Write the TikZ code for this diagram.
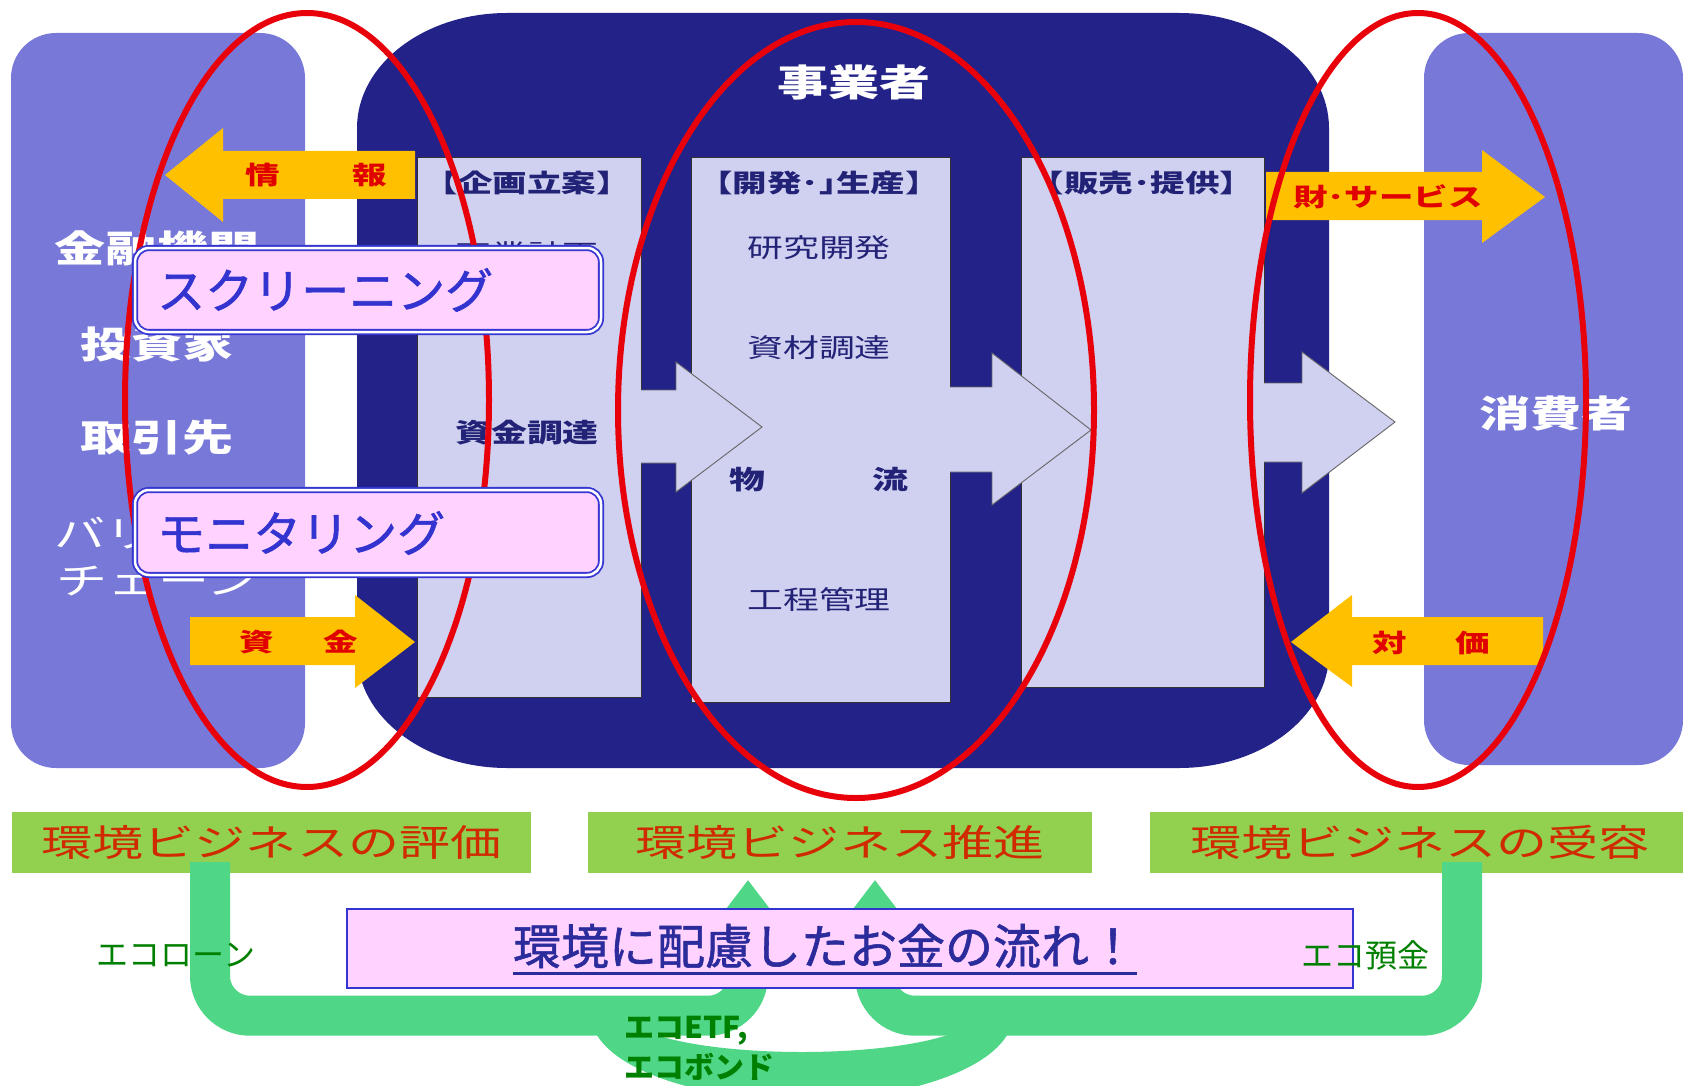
\documentclass[tikz,border=0pt]{standalone}
\usepackage{fontspec}
\newfontfamily\jpw[FakeStretch=1.38]{Noto Sans CJK JP}
\newfontfamily\jpn{Noto Sans CJK JP}
\newfontfamily\jpm[FakeBold=1.2]{Noto Sans CJK JP}
\usetikzlibrary{calc}
\newcommand\fsz[1]{\fontsize{#1}{#1}\selectfont}
\definecolor{sideblue}{HTML}{7878D8}
\definecolor{darknavy}{HTML}{222288}
\definecolor{lav}{HTML}{D0D0F0}
\definecolor{boxtext}{HTML}{222277}
\definecolor{orng}{HTML}{FFC000}
\definecolor{redtxt}{HTML}{E00000}
\definecolor{ellred}{HTML}{E8000B}
\definecolor{pinkfill}{HTML}{FFD2FF}
\definecolor{pinkline}{HTML}{3636D2}
\definecolor{scrtext}{HTML}{3333D0}
\definecolor{grnbox}{HTML}{92D050}
\definecolor{grntxt}{HTML}{D02A00}
\definecolor{mint}{HTML}{4FD787}
\definecolor{ecotxt}{HTML}{008000}
\definecolor{flowtxt}{HTML}{2B2B9C}
\begin{document}
\begin{tikzpicture}[x=1pt,y=-1pt,
  whitelbl/.style={inner sep=0pt, text=white, font=\jpw\bfseries\fsz{37}},
  hdr/.style={inner sep=0pt, text=boxtext, font=\jpw\bfseries\fsz{25}},
  item/.style={inner sep=0pt, text=boxtext, font=\jpw\fsz{26}},
  itemb/.style={inner sep=0pt, text=boxtext, font=\jpw\bfseries\fsz{26}},
  orlbl/.style={inner sep=0pt, text=redtxt, font=\jpw\bfseries\fsz{25}},
  lavbox/.style={fill=lav, draw=black!80, line width=0.8pt},
  larrow/.style={fill=lav},
  larrowedge/.style={draw=black!60, line width=0.9pt},
  orarrow/.style={fill=orng},
  ring/.style={draw=ellred, line width=6pt},
  pinkbox/.style={fill=pinkfill, draw=pinkline, double=white, double distance=2.5pt, line width=1.8pt, rounded corners=14pt},
  pinktxt/.style={inner sep=0pt, text=scrtext, font=\jpm\fsz{48}, anchor=west},
  gbox/.style={fill=grnbox, inner sep=0pt, text=grntxt, font=\jpw\fsz{37}, minimum height=61pt},
  flow/.style={draw=mint, line width=40pt, rounded corners=40pt},
  ecolbl/.style={inner sep=0pt, text=ecotxt, font=\jpn\fsz{32}},
  ecolblb/.style={inner sep=0pt, text=ecotxt, font=\jpn\bfseries\fsz{30}, anchor=west},
]
\useasboundingbox (0,0) rectangle (1683,1086);
\fill[white] (0,0) rectangle (1683,1086);

% side boxes
\fill[sideblue, rounded corners=45pt] (11,33) rectangle (305,768);
\fill[sideblue, rounded corners=45pt] (1424,33) rectangle (1683,765);

% business operator box
\fill[darknavy] (357,128) arc[start angle=180, end angle=270, x radius=150, y radius=115]
  -- (1179,13) arc[start angle=270, end angle=360, x radius=150, y radius=115]
  -- (1329,653) arc[start angle=0, end angle=90, x radius=150, y radius=115]
  -- (507,768) arc[start angle=90, end angle=180, x radius=150, y radius=115] -- cycle;

% process boxes
\draw[lavbox] (417,157) rectangle (641,697);
\draw[lavbox] (691,157) rectangle (950,702);
\draw[lavbox] (1021,157) rectangle (1264,687);

% light block arrows
\fill[larrow] (630,390) -- (676,390) -- (676,362) -- (762,427) -- (676,492) -- (676,463) -- (630,463) -- cycle;
\draw[larrowedge] (641,390) -- (676,390) -- (676,362) -- (762,427) -- (676,492) -- (676,463) -- (641,463);
\fill[larrow] (940,387) -- (992,387) -- (992,353) -- (1091,430) -- (992,505) -- (992,472) -- (940,472) -- cycle;
\draw[larrowedge] (950,387) -- (992,387) -- (992,353) -- (1091,430) -- (992,505) -- (992,472) -- (950,472);
\fill[larrow] (1255,383) -- (1302,383) -- (1302,352) -- (1395,422) -- (1302,493) -- (1302,462) -- (1255,462) -- cycle;
\draw[larrowedge] (1264,383) -- (1302,383) -- (1302,352) -- (1395,422) -- (1302,493) -- (1302,462) -- (1264,462);

% box texts
\node[whitelbl] (jigyo) at (854,82) {事業者};
\node[hdr] (h1) at (527,183) {【企画立案】};
\node[hdr] (h2) at (819,183) {【開発･｣生産】};
\node[hdr] (h3) at (1142,183) {【販売･提供】};
\node[item] (i1) at (527,254) {事業計画};
\node[itemb] (i2) at (527,433) {資金調達};
\node[item] (i3) at (819,248) {研究開発};
\node[item] (i4) at (819,348) {資材調達};
\node[itemb] (i5) at (747,480) {物};
\node[itemb] (i6) at (890,480) {流};
\node[item] (i7) at (819,600) {工程管理};

\node[whitelbl] (w1) at (157,248) {金融機関};
\node[whitelbl] (w2) at (157,345) {投資家};
\node[whitelbl] (w3) at (157,438) {取引先};
\node[whitelbl, font=\jpw\fontsize{37}{47}\selectfont, align=center] (w4) at (157,557) {バリュー\\チェーン};
\node[whitelbl] (w5) at (1556,413) {消費者};

% orange arrows
\fill[orarrow] (415,151) -- (223,151) -- (223,128) -- (165,175) -- (223,222) -- (223,199) -- (415,199) -- cycle;
\fill[orarrow] (190,617) -- (355,617) -- (355,595) -- (415,642) -- (355,688) -- (355,665) -- (190,665) -- cycle;
\fill[orarrow] (1266,172) -- (1482,172) -- (1482,150) -- (1545,197) -- (1482,243) -- (1482,220) -- (1266,220) -- cycle;
\fill[orarrow] (1543,617) -- (1352,617) -- (1352,595) -- (1291,642) -- (1352,687) -- (1352,665) -- (1543,665) -- cycle;
\node[orlbl] (o1) at (263,175) {情};
\node[orlbl] (o2) at (370,175) {報};
\node[orlbl] (o3) at (257,642) {資};
\node[orlbl] (o4) at (341,642) {金};
\node[orlbl] (o5) at (1388,197) {財･サービス};
\node[orlbl] (o6) at (1390,643) {対};
\node[orlbl] (o7) at (1473,643) {価};

% red rings
\draw[ring] (307,400) ellipse[x radius=182, y radius=387];
\draw[ring] (856,410) ellipse[x radius=238, y radius=388];
\draw[ring] (1418,400) ellipse[x radius=168, y radius=387];

% pink boxes
\draw[pinkbox] (135,248) rectangle (601,332);
\node[pinktxt] (scr) at (157,290) {スクリーニング};
\draw[pinkbox] (135,490) rectangle (601,575);
\node[pinktxt] (mon) at (157,533) {モニタリング};

% green boxes
\node[gbox, minimum width=519pt] (g1) at (271.5,842.5) {環境ビジネスの評価};
\node[gbox, minimum width=504pt] (g2) at (840,842.5) {環境ビジネス推進};
\node[gbox, minimum width=540pt] (g3) at (1420,842.5) {環境ビジネスの受容};

% money flows
\coordinate (t1) at ([xshift=-92pt,yshift=-7pt]g2.south);
\coordinate (t2) at ([xshift=35pt,yshift=-7pt]g2.south);
\draw[flow] ([xshift=-61.5pt,yshift=11pt]g1.south) |- ([yshift=-135.5pt]t1) -- ([yshift=-45pt]t1);
\fill[mint] (t1) -- ++(42,55) -- ++(-84,0) -- cycle;
\draw[flow] ([xshift=42pt,yshift=11pt]g3.south) |- ([yshift=-135.5pt]t2) -- ([yshift=-45pt]t2);
\fill[mint] (t2) -- ++(42,55) -- ++(-84,0) -- cycle;
\fill[mint] (591,1015) arc[start angle=180, end angle=0, x radius=211, y radius=85]
  -- (975,1015) arc[start angle=0, end angle=180, x radius=173, y radius=37] -- cycle;

% bottom banner
\draw[fill=pinkfill, draw=scrtext, line width=2pt] (347,909) rectangle (1353,988);
\node[inner sep=0pt, text=flowtxt, font=\jpm\fsz{48}] (bt) at (825,946) {環境に配慮したお金の流れ！};
\draw[flowtxt, line width=2.5pt] ($(bt.base west)+(0,9)$) -- ($(bt.base east)+(0,9)$);

% eco labels
\node[ecolbl] (e1) at (176,955) {エコローン};
\node[ecolbl] (e2) at (1365,955) {エコ預金};
\node[ecolblb] (e3) at (624,1031) {エコETF,};
\node[ecolblb] (e4) at (624,1067) {エコボンド};
\end{tikzpicture}
\end{document}
